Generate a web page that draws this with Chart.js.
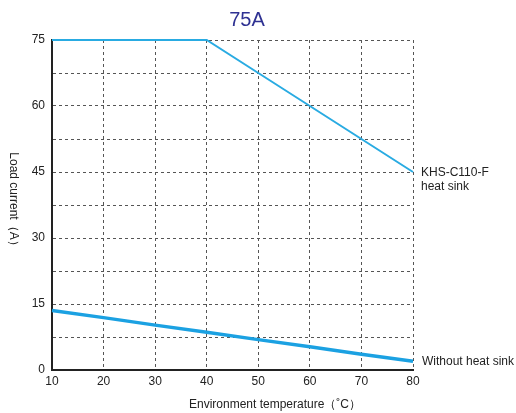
<!DOCTYPE html>
<html>
<head>
<meta charset="utf-8">
<script src="https://cdn.jsdelivr.net/npm/chart.js@4"></script>
<style>
  body { margin: 0; background: #fff; }
  #wrap { width: 516px; height: 413px; position: relative; }
</style>
</head>
<body>
<div id="wrap"><canvas id="derating-chart"></canvas></div>
<script>
// Derating curve data
const temperatures = [10, 20, 30, 40, 50, 60, 70, 80];
const withHeatSink = [75, 75, 75, 75, 67.5, 60, 52.5, 45];
const withoutHeatSink = [13.5, 11.9, 10.2, 8.6, 6.9, 5.3, 3.6, 2];
const chartTitle = '75A';
const xTitle = 'Environment temperature（˚C）';
const yTitle = 'Load current（A）';
const heatSinkLabel = ['KHS-C110-F', 'heat sink'];
const noSinkLabel = 'Without heat sink';

const FONT = 'Arial, "Liberation Sans", sans-serif';

const toPoints = (xs, ys) => xs.map((x, i) => ({ x: x, y: ys[i] }));

// draws title, axis titles and end-of-line labels
const extraText = {
  id: 'extraText',
  afterDraw(chart) {
    const ctx = chart.ctx;
    const xs = chart.scales.x;
    const ys = chart.scales.y;
    ctx.save();

    ctx.fillStyle = '#2e3192';
    ctx.font = '20px ' + FONT;
    ctx.textAlign = 'center';
    ctx.textBaseline = 'middle';
    ctx.fillText(chartTitle, 247, 20);

    ctx.fillStyle = '#222';
    ctx.font = '12px ' + FONT;
    ctx.fillText(xTitle, 275, 405);

    // y title reads top to bottom
    ctx.save();
    ctx.translate(13, 202);
    ctx.rotate(Math.PI / 2);
    ctx.fillText(yTitle, 0, 0);
    ctx.restore();

    ctx.textAlign = 'left';
    const last = temperatures.length - 1;
    const hx = xs.getPixelForValue(temperatures[last]) + 8;
    const hy = ys.getPixelForValue(withHeatSink[last]);
    ctx.fillText(heatSinkLabel[0], hx, hy + 1);
    ctx.fillText(heatSinkLabel[1], hx, hy + 15);
    ctx.fillText(noSinkLabel, hx + 1, ys.getPixelForValue(withoutHeatSink[last]));
    ctx.restore();
  }
};

let deratingChart;

const initializeChart = () => {
  const ctx = document.getElementById('derating-chart').getContext('2d');
  deratingChart = new Chart(ctx, {
    type: 'line',
    data: {
      datasets: [{
        label: 'KHS-C110-F heat sink',
        data: toPoints(temperatures, withHeatSink),
        borderColor: '#29abe2',
        borderWidth: 2,
        pointRadius: 0,
        tension: 0,
        clip: false
      }, {
        label: 'Without heat sink',
        data: toPoints(temperatures, withoutHeatSink),
        borderColor: '#1ba1e2',
        borderWidth: 3.5,
        pointRadius: 0,
        tension: 0,
        clip: false
      }]
    },
    options: {
      responsive: true,
      maintainAspectRatio: false,
      animation: false,
      layout: { padding: { left: 0, right: 103, top: 40, bottom: 0 } },
      plugins: {
        legend: { display: false },
        tooltip: { enabled: false }
      },
      scales: {
        x: {
          type: 'linear',
          min: 10,
          max: 80,
          ticks: {
            stepSize: 10,
            color: '#222',
            font: { size: 12, family: FONT },
            padding: 4,
            maxRotation: 0
          },
          grid: {
            color: '#555',
            lineWidth: 1,
            drawTicks: false
          },
          // dash applies to the grid lines, the axis line stays solid
          border: { display: true, color: '#222', width: 2, dash: [3, 3] },
          afterFit: (scale) => { scale.height = 43; }
        },
        y: {
          min: 0,
          max: 75,
          ticks: {
            stepSize: 7.5,
            color: '#222',
            font: { size: 12, family: FONT },
            padding: 7,
            callback: (v) => (v % 15 === 0 ? v : '')
          },
          grid: {
            color: '#555',
            lineWidth: 1,
            drawTicks: false
          },
          border: { display: true, color: '#222', width: 2, dash: [3, 3] },
          afterFit: (scale) => { scale.width = 52; }
        }
      }
    },
    plugins: [extraText]
  });
};

initializeChart();
</script>
</body>
</html>
